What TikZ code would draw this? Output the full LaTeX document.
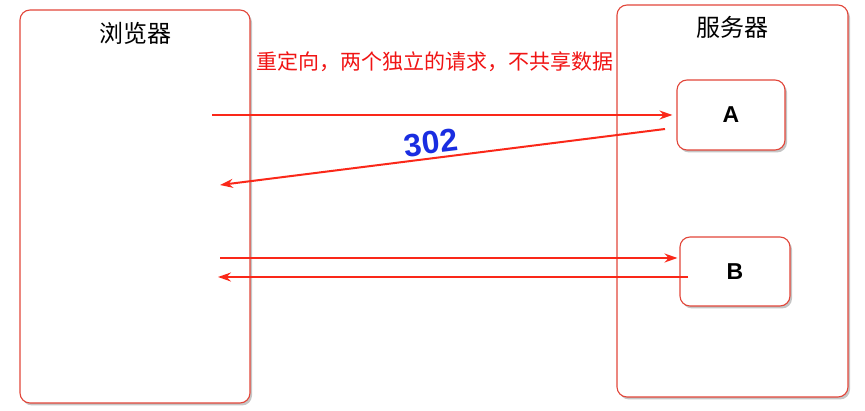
\documentclass[tikz,border=0pt]{standalone}
\usepackage{fontspec}
\setsansfont{Liberation Sans}
\newfontfamily\cjk{Noto Sans CJK SC}
\usepackage{tikz}
\usetikzlibrary{positioning}
\usetikzlibrary{arrows.meta}
\usetikzlibrary{shadows}

\definecolor{boxred}{RGB}{226,70,58}
\definecolor{arrowred}{RGB}{250,40,25}
\definecolor{labelred}{RGB}{240,20,20}
\definecolor{codeblue}{RGB}{25,45,225}

\begin{document}
\begin{tikzpicture}[
            x=1pt, y=-1pt,
            panel/.style={
                draw=boxred,
                fill=white,
                rounded corners=10pt,
                line width=1.1pt,
                drop shadow={shadow xshift=2pt, shadow yshift=-2.5pt, opacity=0.45}
            },
            servlet/.style={
                panel,
                font=\sffamily\bfseries\fontsize{23}{23}\selectfont,
                minimum width=108pt,
                minimum height=70pt
            },
            title/.style={
                font=\cjk\fontsize{24}{24}\selectfont
            },
            msg/.style={
                -{Stealth[length=13pt, width=9pt]},
                draw=arrowred,
                line width=2pt
            }
        ]

        \useasboundingbox (0,0) rectangle (865,411);

        \node[panel, minimum width=230pt, minimum height=393pt] (browser) at (135,206.5) {};
        \node[panel, minimum width=231pt, minimum height=392pt] (server) at (732.5,201) {};

        \node[title] (browser title) at ([yshift=-24pt]browser.north) {浏览器};
        \node[title] (server title) at ([yshift=-23pt]server.north) {服务器};

        \node[servlet] (A) at (731,115) {A};
        \node[servlet, minimum width=110pt, minimum height=69pt] (B) at (735,271.5) {B};

        \node[font=\cjk\fontsize{21}{21}\selectfont, text=labelred] (note) at (435,62)
            {重定向，两个独立的请求，不共享数据};

        \coordinate (req1) at (212,115);
        \coordinate (redir) at (665,129);
        \coordinate (back1) at (220,185);
        \coordinate (req2) at (220,258);
        \coordinate (resp2) at (688,277);
        \coordinate (back2) at (218,277);

        \draw[msg] (req1) -- ([xshift=-4pt]A.west |- req1);
        \draw[msg] (redir) -- (back1);
        \draw[msg] (req2) -- ([xshift=-2pt]B.west |- req2);
        \draw[msg] (resp2) -- (back2);

        \node[font=\sffamily\bfseries\fontsize{32}{32}\selectfont, text=codeblue, rotate=7] (code) at (431,143) {302};

    \end{tikzpicture}
\end{document}
